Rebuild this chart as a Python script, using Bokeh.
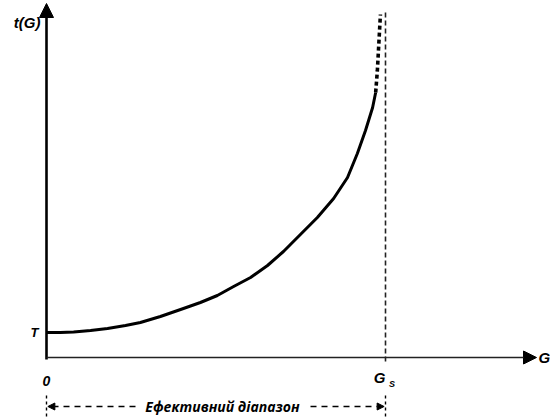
from bokeh.plotting import figure
from bokeh.models import Arrow, NormalHead, Range1d
from bokeh.core.properties import value
from bokeh.embed import file_html
from bokeh.resources import INLINE

# Throughput t(G) versus load G, normalised so that G_s = 1 and t(0) = T = 1
T = 1.0
G_s = 1.0

# solid part of the curve (effective range)
G_solid = [0.0, 0.041, 0.080, 0.130, 0.180, 0.233, 0.277, 0.336, 0.404, 0.454,
           0.504, 0.552, 0.602, 0.652, 0.699, 0.749, 0.799, 0.847, 0.888, 0.917,
           0.941, 0.962, 0.971]
t_solid = [1.0, 1.0, 1.02, 1.08, 1.16, 1.28, 1.40, 1.64, 1.96, 2.20,
           2.48, 2.84, 3.20, 3.68, 4.24, 4.92, 5.60, 6.36, 7.20, 8.16,
           9.08, 10.0, 10.6]

# dashed continuation as G approaches G_s
G_dash = [0.971, 0.976, 0.985]
t_dash = [10.6, 11.48, 13.72]

range_label = "Ефективний діапазон"

W, H = 550, 418
# pixel scale of the drawing: 339 px per unit of G, 25 px per unit of t
x0_px, y0_px = 46, 357
sx, sy = 339.0, 25.0

p = figure(width=W, height=H, output_backend="svg", toolbar_location=None,
           min_border=0, x_axis_type=None, y_axis_type=None)
p.x_range = Range1d(-x0_px / sx, (W - x0_px) / sx)
p.y_range = Range1d(-(H - y0_px) / sy, y0_px / sy)
p.grid.visible = False
p.outline_line_color = None
p.background_fill_color = "white"
p.border_fill_color = "white"

def px_x(px):
    return (px - x0_px) / sx

def px_y(py):
    return (y0_px - py) / sy

# axes with arrowheads
p.add_layout(Arrow(x_start=0, y_start=px_y(359), x_end=0, y_end=px_y(3),
                   line_width=2.6, line_color="black",
                   end=NormalHead(size=14, fill_color="black", line_color="black", line_width=1),
                   start=None))
p.add_layout(Arrow(x_start=0, y_start=0, x_end=px_x(536), y_end=0,
                   line_width=1.6, line_color="#222222",
                   end=NormalHead(size=13, fill_color="black", line_color="black", line_width=1),
                   start=None))

# G_s boundary
p.line([G_s, G_s], [px_y(12), px_y(363)], line_color="#222222", line_width=1.6,
       line_dash="5 3")

# the curve
p.line(G_solid, t_solid, line_color="black", line_width=3, line_join="round")
p.line(G_dash, t_dash, line_color="black", line_width=3.6, line_dash="4 3")

# effective range marker
yr = px_y(406)
p.line([0, 0], [px_y(395), px_y(416)], line_color="black", line_width=1.4, line_dash="3 3")
p.line([G_s, G_s], [px_y(395), px_y(416)], line_color="black", line_width=1.4, line_dash="3 3")
p.add_layout(Arrow(x_start=px_x(135), y_start=yr, x_end=0.004, y_end=yr,
                   line_width=1.3, line_color="black", line_dash="6 5",
                   end=NormalHead(size=7, fill_color="black", line_color="black", line_width=1),
                   start=None))
p.add_layout(Arrow(x_start=px_x(310), y_start=yr, x_end=G_s - 0.004, y_end=yr,
                   line_width=1.3, line_color="black", line_dash="6 5",
                   end=NormalHead(size=7, fill_color="black", line_color="black", line_width=1),
                   start=None))
p.text([px_x(222)], [yr], text=[range_label], text_font=value("Open Sans"),
       text_font_style="bold italic", text_font_size="14px",
       text_align="center", text_baseline="middle", text_color="black")

# labels
lab = dict(text_font=value("Liberation Sans"), text_font_style="bold italic",
           text_color="black", text_baseline="middle")
p.text([px_x(40)], [px_y(22)], text=["t(G)"], text_font_size="15px", text_align="right", **lab)
p.text([px_x(38)], [T], text=["T"], text_font_size="13px", text_align="right", **lab)
p.text([0], [px_y(380)], text=["0"], text_font_size="14px", text_align="center", **lab)
p.text([G_s], [px_y(377)], text=["G"], text_font_size="15px", text_align="right", **lab)
p.text([G_s + 0.01], [px_y(383)], text=["S"], text_font_size="9px", text_align="left", **lab)
p.text([px_x(538)], [0], text=["G"], text_font_size="15px", text_align="left", **lab)

open("out.html", "w").write(file_html(p, INLINE))
